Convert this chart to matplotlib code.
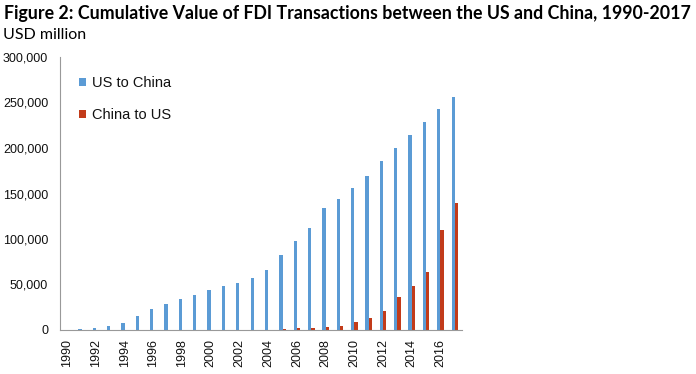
import numpy as np
from matplotlib import pyplot as plt
from matplotlib.ticker import FuncFormatter

years = list(range(1990, 2018))
us_to_china = [300, 800, 1900, 4400, 8200, 15400, 23400, 29000, 34400, 38800,
               43600, 48000, 52000, 57500, 66300, 82800, 98000, 112500, 133700, 143600,
               156400, 169600, 185700, 200400, 214700, 229000, 242500, 256000]
china_to_us = [0, 0, 0, 100, 100, 100, 200, 200, 200, 200,
               300, 300, 300, 400, 500, 1000, 1800, 2500, 3300, 4400,
               8400, 13600, 20900, 35900, 48000, 64100, 110200, 140000]
tick_labels = [str(y) if y % 2 == 0 else '' for y in years]

arial = ['Liberation Sans', 'DejaVu Sans']
blue = '#5B9BD5'
red = '#C23B1A'

fig = plt.figure(figsize=(6.96, 3.74), dpi=100)
ax = fig.add_axes([60 / 696, 44 / 374, 402 / 696, 273 / 374])

x = np.arange(len(years))
w = 0.23
ax.bar(x - w / 2, us_to_china, width=w, color=blue, label='US to China')
ax.bar(x + w / 2, china_to_us, width=w, color=red, label='China to US')

ax.set_xlim(-0.5, len(years) - 0.5)
ax.set_ylim(0, 300000)
ax.set_yticks(range(0, 300001, 50000))
ax.yaxis.set_major_formatter(FuncFormatter(lambda v, p: f'{int(v):,}'))
ax.set_xticks(x)
ax.set_xticklabels(tick_labels, rotation=90, family=arial, fontsize=9, color='#111111')
for lab in ax.get_yticklabels():
    lab.set_family(arial)
    lab.set_fontsize(9)
    lab.set_color('#111111')
ax.tick_params(axis='x', length=0, pad=6.5)
ax.tick_params(axis='y', length=0, pad=8.5)

for s in ['top', 'right']:
    ax.spines[s].set_visible(False)
ax.spines['left'].set_color('#999999')
ax.spines['bottom'].set_color('#999999')

leg = ax.legend(loc='upper left', bbox_to_anchor=(79 / 696, (374 - 76) / 374),
                bbox_transform=fig.transFigure, frameon=False, borderpad=0, borderaxespad=0,
                handlelength=0.45, handleheight=0.45, handletextpad=0.45,
                labelspacing=1.25, prop={'family': arial, 'size': 10.5})
for t in leg.get_texts():
    t.set_color('#111111')

fig.text(0.006, 0.965, 'Figure 2: Cumulative Value of FDI Transactions between the US and China, 1990-2017',
         family=['Lato', 'DejaVu Sans'], fontweight='bold', fontsize=12.8, va='center', ha='left')
fig.text(0.004, 0.906, 'USD million', family=['Lato', 'DejaVu Sans'], fontsize=11.5, va='center', ha='left')

plt.savefig('out.png', dpi=100)
